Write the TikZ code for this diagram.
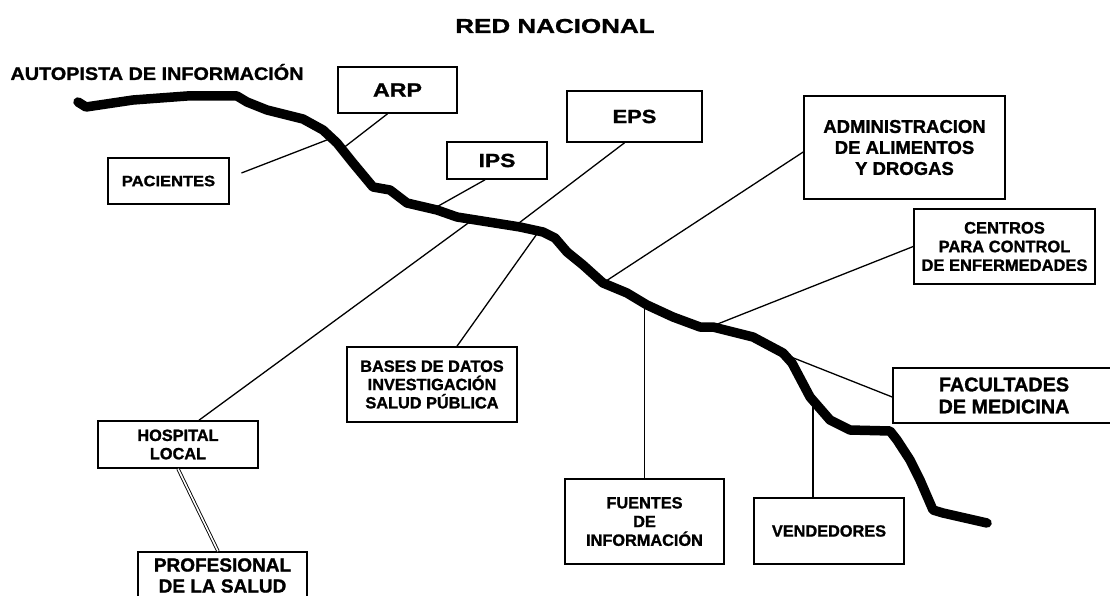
\documentclass[tikz,border=0pt]{standalone}
\usepackage{fontspec}
\setmainfont{Liberation Sans}[BoldFeatures={FakeBold=1.3}]
\usepackage{tikz}
\usetikzlibrary{calc}

\begin{document}
\begin{tikzpicture}[x=1pt,y=-1pt,
    box/.style={draw, line width=1.6pt, align=center, inner sep=0pt},
    link/.style={line width=1.3pt},
    road/.style={line width=9.5pt, line cap=round, line join=round}]
    \useasboundingbox (0,0) rectangle (1110,596);

    % Titles
    \node (title) at (555,26) {\fontsize{20}{24}\selectfont\bfseries\addfontfeature{FakeStretch=1.3}RED NACIONAL};
    \node (autopista) at (157,72) {\fontsize{18}{22}\selectfont\bfseries\addfontfeature{FakeStretch=1.1}AUTOPISTA DE INFORMACIÓN};

    % Boxes above the road
    \node[box, minimum width=119, minimum height=46, font=\fontsize{19}{22}\selectfont\bfseries\addfontfeature{FakeStretch=1.22}] (arp) at (397.5,90) {ARP};
    \node[box, minimum width=121, minimum height=46, font=\fontsize{15}{18}\selectfont\bfseries\addfontfeature{FakeStretch=1.1}] (pac) at (168.5,181) {PACIENTES};
    \node[box, minimum width=100, minimum height=37, font=\fontsize{19}{22}\selectfont\bfseries\addfontfeature{FakeStretch=1.2}] (ips) at (497,160.5) {IPS};
    \node[box, minimum width=135, minimum height=51, font=\fontsize{19}{22}\selectfont\bfseries\addfontfeature{FakeStretch=1.15}] (eps) at (634.5,116.5) {EPS};
    \node[box, minimum width=201, minimum height=103, font=\fontsize{18.5}{21}\selectfont\bfseries] (adm) at (904.5,147.5) {ADMINISTRACION\\DE ALIMENTOS\\Y DROGAS};
    \node[box, minimum width=181, minimum height=75, font=\fontsize{16.5}{18.7}\selectfont\bfseries] (cen) at (1004.5,246.5) {CENTROS\\PARA CONTROL\\DE ENFERMEDADES};

    % Boxes below the road
    \node[box, minimum width=222, minimum height=55, font=\fontsize{19.8}{22}\selectfont\bfseries] (fac) at (1004,395.5) {FACULTADES\\DE MEDICINA};
    \node[box, minimum width=150, minimum height=66, font=\fontsize{16.3}{18.5}\selectfont\bfseries] (ven) at (829,531) {VENDEDORES};
    \node[box, minimum width=159, minimum height=85, font=\fontsize{16.3}{18.7}\selectfont\bfseries] (fue) at (644.5,521.5) {FUENTES\\DE\\INFORMACIÓN};
    \node[box, minimum width=170, minimum height=75, font=\fontsize{16.3}{18.3}\selectfont\bfseries] (bases) at (432,384.5) {BASES DE DATOS\\INVESTIGACIÓN\\SALUD PÚBLICA};
    \node[box, minimum width=160, minimum height=47, font=\fontsize{16.3}{18.3}\selectfont\bfseries] (hosp) at (178,444.5) {HOSPITAL\\LOCAL};
    \node[box, minimum width=169, minimum height=47, font=\fontsize{19}{21}\selectfont\bfseries] (prof) at (222.5,575.5) {PROFESIONAL\\DE LA SALUD};

    % Points where the links meet the road
    \coordinate (jArp) at (342,149);
    \coordinate (jPac) at (332,138);
    \coordinate (jIps) at (433,209);
    \coordinate (jHosp) at (473,219.5);
    \coordinate (jEps) at (515,226);
    \coordinate (jBases) at (539,231);
    \coordinate (jAdm) at (603,283);
    \coordinate (jFue) at (644.5,303.5);
    \coordinate (jCen) at (710,327);
    \coordinate (jFac) at (786,355);
    \coordinate (jVen) at (813,400.5);

    % Links
    \draw[link] ([xshift=-10pt]arp.south) -- (jArp);
    \draw[link, shorten <=12.5pt] ([yshift=3.5pt]pac.east) -- (jPac);
    \draw[link] ([xshift=-12pt]ips.south) -- (jIps);
    \draw[link] ([xshift=21pt]hosp.north) -- (jHosp);
    \draw[link] ([xshift=-10pt]eps.south) -- (jEps);
    \draw[link] ([xshift=25pt]bases.north) -- (jBases);
    \draw[link] ([yshift=-4.5pt]adm.west) -- (jAdm);
    \draw[link] (fue.north) -- (jFue);
    \draw[link] (cen.west) -- (jCen);
    \draw[link] ([yshift=-1.5pt]fac.west) -- (jFac);
    \draw[link] ([xshift=-16pt]ven.north) -- (ven.north -| jVen) -- (jVen);
    \draw[line width=0.9pt, double, double distance=1.6pt] (hosp.south) -- ([xshift=-4.5pt]prof.north);

    % Road
    \draw[road] (78,102) -- (86,107) -- (133,100) -- (187,96) -- (237,96) -- (247,102)
        -- (267,110) -- (303,119) -- (323,130) -- (337,143) -- (353,163) -- (373,187)
        -- (390,190) -- (407,203) -- (437,210) -- (457,217) -- (520,227) -- (543,232)
        -- (555,238) -- (567,252) -- (583,265) -- (603,283) -- (627,293) -- (647,305)
        -- (673,317) -- (700,327) -- (713,327) -- (753,337) -- (783,353) -- (792,363)
        -- (810,397) -- (830,420) -- (850,430) -- (890,431) -- (897,440) -- (910,460)
        -- (920,480) -- (933,510) -- (943,513) -- (987,523);
\end{tikzpicture}
\end{document}
